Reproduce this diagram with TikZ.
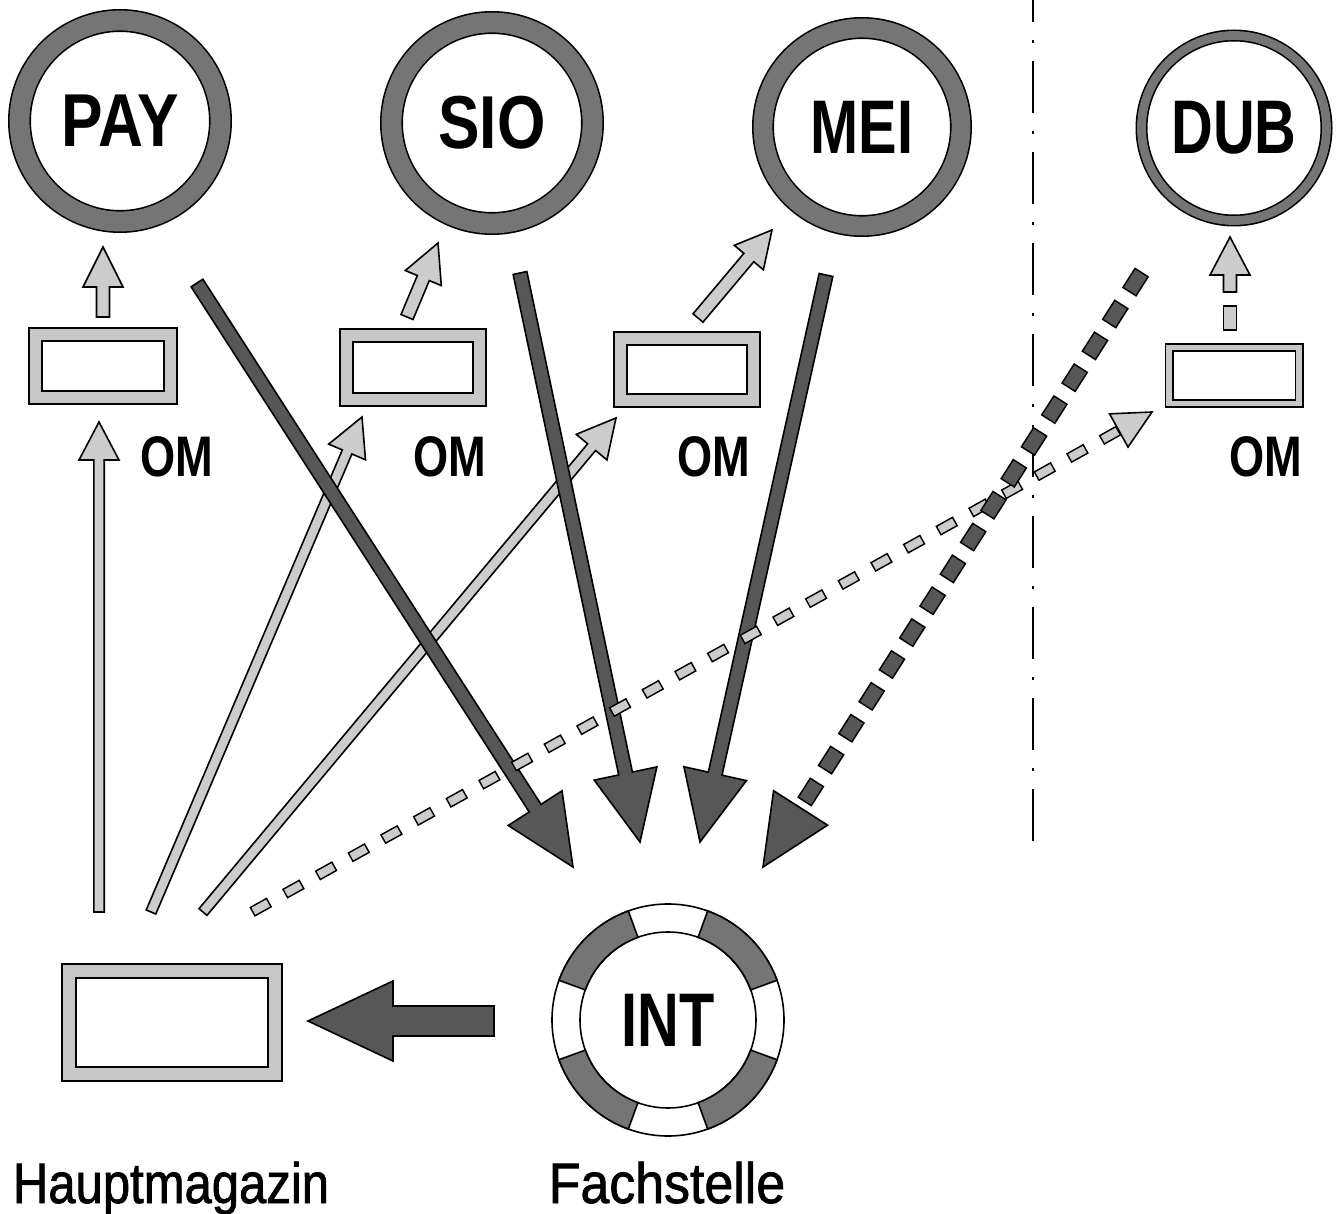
\documentclass[tikz,border=0pt]{standalone}
\usepackage{fontspec}
\setmainfont{Liberation Sans}
\newfontfamily\circwide[FakeStretch=0.83]{Liberation Sans}
\newfontfamily\circnarrow[FakeStretch=0.76]{Liberation Sans}
\newfontfamily\omfont[FakeStretch=0.79]{Liberation Sans}
\newfontfamily\placefont[FakeStretch=0.86, FakeBold=1.3]{Liberation Sans}
\newfontfamily\placefontb[FakeStretch=0.91, FakeBold=1.3]{Liberation Sans}
\usetikzlibrary{calc}

\definecolor{ringfill}{gray}{0.46}
\definecolor{darkfill}{gray}{0.34}
\definecolor{boxfill}{gray}{0.78}
\definecolor{lightfill}{gray}{0.8}

% outlined block arrow: style, tail, tip, shaft half width, head half width, head length
\newcommand{\blockarrow}[6]{%
  \coordinate (ba-base) at ($(#3)!#6!(#2)$);
  \path[#1] ($(#2)!#4!90:(#3)$) -- ($(ba-base)!#4!-90:(#2)$)
    -- ($(ba-base)!#5!-90:(#2)$) -- (#3)
    -- ($(ba-base)!#5!90:(#2)$) -- ($(ba-base)!#4!90:(#2)$)
    -- ($(#2)!#4!-90:(#3)$) -- cycle;
}
% triangular head only: style, base centre, tip, half width
\newcommand{\arrowhead}[4]{%
  \path[#1] ($(#2)!#4!90:(#3)$) -- (#3) -- ($(#2)!#4!-90:(#3)$) -- cycle;
}

\tikzset{
  outline/.style={draw=black, line width=0.8pt, line join=miter},
  darkarrow/.style={outline, fill=darkfill},
  lightarrow/.style={outline, fill=lightfill},
  ring/.style={circle, inner sep=0pt, draw=black, line width=0.8pt, double=ringfill},
  ombox/.style={rectangle, inner sep=0pt, draw=black, line width=0.8pt, double=boxfill},
  widelab/.style={font=\circwide\bfseries\fontsize{37.5pt}{40pt}\selectfont},
  narrowlab/.style={font=\circnarrow\bfseries\fontsize{38pt}{40pt}\selectfont},
  omlabel/.style={anchor=base, inner sep=0pt, font=\omfont\bfseries\fontsize{28.6pt}{30pt}\selectfont},
  placelabel/.style={anchor=base, inner sep=0pt},
}

\begin{document}
\begin{tikzpicture}[x=0.5pt, y=-0.5pt]
\useasboundingbox (0,0) rectangle (1340,1214);

% dash-dot divider
\coordinate (divtop) at (1033,0);
\coordinate (divbot) at (1033,843);
\draw[line width=1pt, dash pattern=on 26pt off 9pt on 1.5pt off 9pt, dash phase=15pt] (divtop) -- (divbot);

% departments
\node[ring, widelab, minimum size=100.5pt, double distance=9.9pt] (pay) at (120,121) {\raisebox{-1pt}{PAY}};
\node[ring, widelab, minimum size=100.5pt, double distance=9.9pt] (sio) at (492,123) {\raisebox{-1pt}{SIO}};
\node[ring, narrowlab, minimum size=99pt, double distance=9.4pt] (mei) at (862,127) {MEI};
\node[ring, narrowlab, minimum size=92.5pt, double distance=4.4pt] (dub) at (1234,128) {DUB};

% local stores
\node[ombox, minimum width=67.5pt, minimum height=31.5pt, double distance=5.9pt] (om1) at (103,366) {};
\node[ombox, minimum width=66.5pt, minimum height=32pt, double distance=5.9pt] (om2) at (413,367.5) {};
\node[ombox, minimum width=66.5pt, minimum height=31pt, double distance=5.9pt] (om3) at (687,369.5) {};
\node[ombox, minimum width=65pt, minimum height=28pt, double distance=2.9pt] (om4) at (1234,375.5) {};

\node[omlabel] (oml1) at (177,476) {OM};
\node[omlabel] (oml2) at (450,476) {OM};
\node[omlabel] (oml3) at (714,476) {OM};
\node[omlabel] (oml4) at (1266,476) {OM};

% main store
\node[ombox, minimum width=103pt, minimum height=51.5pt, double distance=6.4pt] (haupt) at (172,1022.5) {};
\node[placelabel, font=\placefont\fontsize{28.5pt}{30pt}\selectfont] (hauptlab) at (171,1203) {Hauptmagazin};

% central office with segmented ring
\node[circle, inner sep=0pt, minimum size=88pt, draw=black, line width=0.8pt, narrowlab] (int) at (668,1020) {INT};
\draw[line width=0.8pt] (int.center) circle[radius=58pt];
\foreach \a [evaluate=\a as \b using \a+50] in {20,110,200,290}
  \path[outline, fill=ringfill] ([shift={(int.center)}]\a:44pt) -- ([shift={(int.center)}]\a:58pt)
    arc[start angle=\a, end angle=\b, radius=58pt] -- ([shift={(int.center)}]\b:44pt)
    arc[start angle=\b, end angle=\a, radius=44pt] -- cycle;
\node[placelabel, font=\placefontb\fontsize{28.5pt}{30pt}\selectfont] (intlab) at (667,1203) {Fachstelle};

% store to department
\coordinate (s1t) at (103,317);  \coordinate (s1p) at (103,247);
\coordinate (s2t) at (407,317);  \coordinate (s2p) at (438,243);
\coordinate (s3t) at (698,318);  \coordinate (s3p) at (772,230);
\coordinate (s4t) at (1230,292); \coordinate (s4p) at (1230,237);
\coordinate (s4a) at (1223.5,306); \coordinate (s4b) at (1236.5,330);
\blockarrow{lightarrow}{s1t}{s1p}{3.25pt}{10pt}{20pt}
\blockarrow{lightarrow}{s2t}{s2p}{3.25pt}{9.75pt}{19pt}
\blockarrow{lightarrow}{s3t}{s3p}{3.25pt}{9.5pt}{18pt}
\path[lightarrow] (s4a) rectangle (s4b);
\blockarrow{lightarrow}{s4t}{s4p}{3.25pt}{10pt}{19pt}

% main store to local stores
\coordinate (h1t) at (99,912);  \coordinate (h1p) at (99,422);
\coordinate (h2t) at (151,912); \coordinate (h2p) at (362,417);
\coordinate (h3t) at (203,912); \coordinate (h3p) at (616,418);
\blockarrow{lightarrow}{h1t}{h1p}{2.6pt}{10pt}{19pt}
\blockarrow{lightarrow}{h2t}{h2p}{2.6pt}{10pt}{19pt}
\blockarrow{lightarrow}{h3t}{h3p}{2.6pt}{10pt}{19pt}

% departments to central office
\coordinate (d1t) at (197,283); \coordinate (d1p) at (573,867);
\coordinate (d2t) at (520,273); \coordinate (d2p) at (640,842);
\coordinate (d3t) at (826,275); \coordinate (d3p) at (700,842);
\blockarrow{darkarrow}{d1t}{d1p}{3.5pt}{16pt}{35pt}
\blockarrow{darkarrow}{d2t}{d2p}{3.5pt}{16pt}{35pt}
\blockarrow{darkarrow}{d3t}{d3p}{3.5pt}{16pt}{35pt}

% dashed: main store to the outside store
\coordinate (h4t) at (252,912); \coordinate (h4p) at (1152,412);
\coordinate (h4b) at ($(h4p)!19pt!(h4t)$);
\draw[black, line width=5.5pt, dash pattern=on 10pt off 8.685pt] (h4t) -- (h4b);
\draw[lightfill, line width=3.9pt, dash pattern=on 8.4pt off 10.285pt, dash phase=17.885pt] (h4t) -- (h4b);
\arrowhead{lightarrow}{h4b}{h4p}{9.5pt}

% dashed: outside department to central office
\coordinate (d4t) at (1142,272); \coordinate (d4p) at (763,867);
\coordinate (d4b) at ($(d4p)!35pt!(d4t)$);
\coordinate (d4e) at ($(d4p)!38.5pt!(d4t)$);
\draw[black, line width=8.5pt, dash pattern=on 12pt off 6.89pt] (d4t) -- (d4e);
\draw[darkfill, line width=6.9pt, dash pattern=on 10.4pt off 8.49pt, dash phase=18.09pt] (d4t) -- (d4e);
\arrowhead{darkarrow}{d4b}{d4p}{16pt}

% central office back to main store
\coordinate (rt) at (494,1021); \coordinate (rp) at (308,1021);
\blockarrow{darkarrow}{rt}{rp}{7.5pt}{20pt}{42.5pt}
\end{tikzpicture}
\end{document}
